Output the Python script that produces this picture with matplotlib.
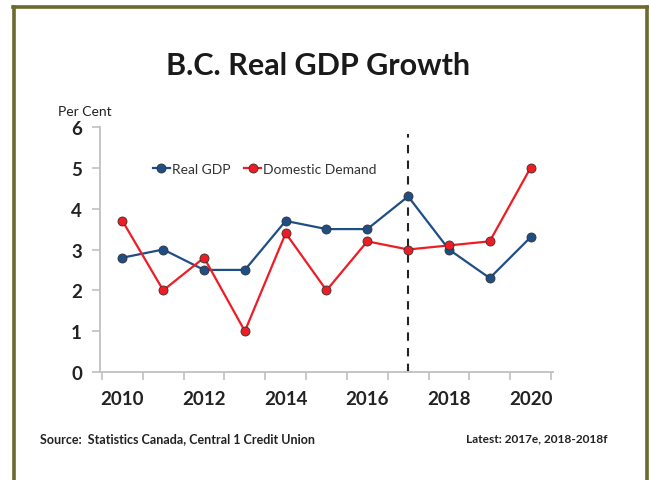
import matplotlib
matplotlib.use("Agg")
import matplotlib.pyplot as plt
from matplotlib.lines import Line2D

years = [2010, 2011, 2012, 2013, 2014, 2015, 2016, 2017, 2018, 2019, 2020]
real_gdp = [2.8, 3.0, 2.5, 2.5, 3.7, 3.5, 3.5, 4.3, 3.0, 2.3, 3.3]
domestic_demand = [3.7, 2.0, 2.8, 1.0, 3.4, 2.0, 3.2, 3.0, 3.1, 3.2, 5.0]
xtick_labels = ["2010", "2012", "2014", "2016", "2018", "2020"]
yticks = [0, 1, 2, 3, 4, 5, 6]
divider_year = 2017

plt.rcParams['font.family'] = ['Lato', 'DejaVu Sans']

W, H = 650, 481
fig = plt.figure(figsize=(W / 100, H / 100), dpi=100)

def fx(px):
    return px / W

def fy(py):
    return 1 - py / H

# border
border_col = '#6b6b2e'
fig.add_artist(Line2D([fx(14), fx(14)], [fy(7.5), 0], transform=fig.transFigure, color=border_col, lw=2.6))
fig.add_artist(Line2D([fx(13), fx(647)], [fy(7.5), fy(7.5)], transform=fig.transFigure, color=border_col, lw=2.6))
fig.add_artist(Line2D([fx(646.5), fx(646.5)], [fy(7.5), 0], transform=fig.transFigure, color=border_col, lw=2.6))

ax = fig.add_axes([fx(100), fy(373), fx(553) - fx(100), fy(128) - fy(373)])

blue = '#1f4e86'
red = '#ee1c25'
ax.plot(years, real_gdp, color=blue, lw=1.6, marker='o', ms=6.5,
        markerfacecolor=blue, markeredgecolor='#333333', markeredgewidth=0.6,
        label='Real GDP', zorder=3)
ax.plot(years, domestic_demand, color=red, lw=1.6, marker='o', ms=6.5,
        markerfacecolor=red, markeredgecolor='#333333', markeredgewidth=0.6,
        label='Domestic Demand', zorder=4)

ax.axvline(divider_year, ymin=0, ymax=(6 - 0.17) / 6, color='#222222', lw=1.5,
           dashes=(4, 3.5), zorder=2)

ax.set_xlim(years[0] - 0.55, years[-1] + 0.55)
ax.set_ylim(0, 6)

for s in ['top', 'right']:
    ax.spines[s].set_visible(False)
for s in ['left', 'bottom']:
    ax.spines[s].set_color('#c0c0c0')
    ax.spines[s].set_linewidth(1.3)

ax.set_yticks(yticks)
ax.set_yticklabels([str(v) for v in yticks], fontsize=13.5, fontweight='bold', color='#222222')
ax.tick_params(axis='y', length=6, width=1.2, color='#c0c0c0', pad=7)

ax.set_xticks([y - 0.5 for y in years] + [years[-1] + 0.5])
ax.set_xticklabels([])
ax.tick_params(axis='x', length=6, width=1.2, color='#c0c0c0')
for lab, yr in zip(xtick_labels, years[::2]):
    ax.text(yr, -0.43, lab, ha='center', va='top', fontsize=13.5, fontweight='bold',
            color='#222222', transform=ax.transData)

leg = ax.legend(loc='upper left', bbox_to_anchor=(0.105, 0.875), ncol=2, frameon=False,
                fontsize=10, handlelength=1.2, handletextpad=0.15, columnspacing=1.0,
                borderaxespad=0)
for t in leg.get_texts():
    t.set_color('#333333')

fig.text(fx(318), fy(66), 'B.C. Real GDP Growth', ha='center', va='center',
         fontsize=22, fontweight='bold', color='#1a1a1a')
fig.text(fx(58), fy(112), 'Per Cent', ha='left', va='center', fontsize=10, color='#222222')
fig.text(fx(40), fy(439), 'Source:  Statistics Canada, Central 1 Credit Union', ha='left',
         va='center', fontsize=9, fontweight='bold', color='#222222')
fig.text(fx(608), fy(439), 'Latest: 2017e, 2018-2018f', ha='right',
         va='center', fontsize=8.6, fontweight='bold', color='#222222')

fig.savefig('out.png', dpi=100, facecolor='white')
